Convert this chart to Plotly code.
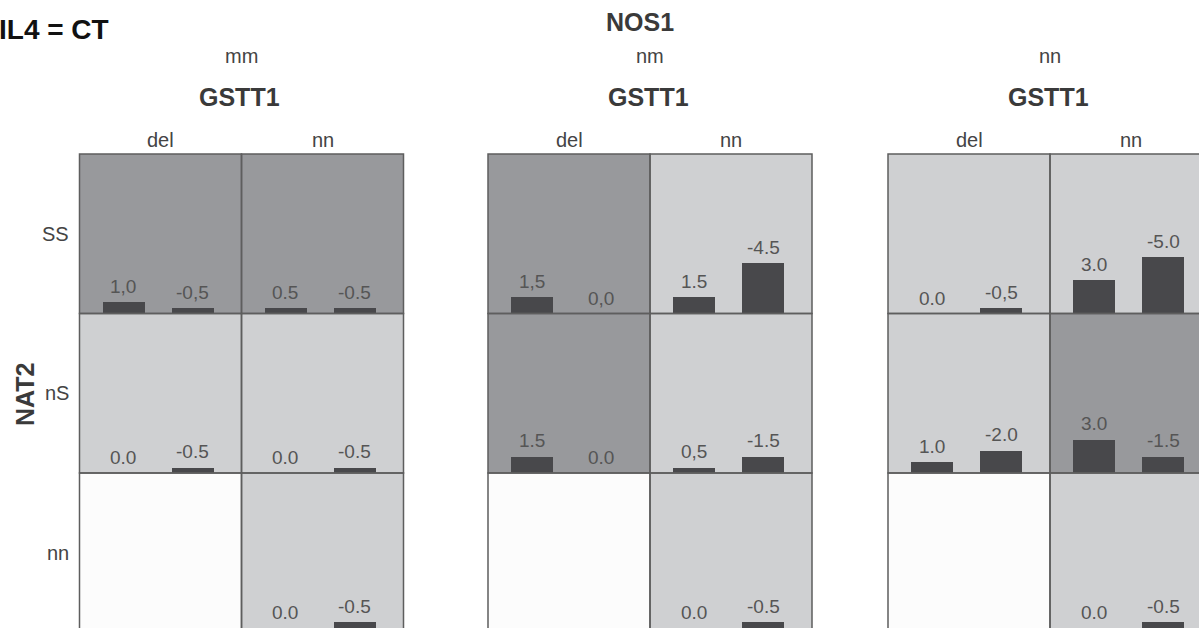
import plotly.graph_objects as go

W, H = 1199, 628
FONT = "Liberation Sans, Arial, Helvetica, sans-serif"

# ---------------- data ----------------
header = "IL4 = CT"
nos1_title = "NOS1"
gstt1_title = "GSTT1"
nat2_title = "NAT2"
nos1_genotypes = ["mm", "nm", "nn"]
gstt1_genotypes = ["del", "nn"]
nat2_genotypes = ["SS", "nS", "nn"]

# values[row NAT2][col GSTT1] = [first bar, second bar]  (None = empty cell)
values_mm = [[[1.0, -0.5], [0.5, -0.5]],
             [[0.0, -0.5], [0.0, -0.5]],
             [None, [0.0, -0.5]]]
labels_mm = [[["1,0", "-0,5"], ["0.5", "-0.5"]],
             [["0.0", "-0.5"], ["0.0", "-0.5"]],
             [None, ["0.0", "-0.5"]]]
shade_mm = [["dark", "dark"], ["light", "light"], ["white", "light"]]

values_nm = [[[1.5, 0.0], [1.5, -4.5]],
             [[1.5, 0.0], [0.5, -1.5]],
             [None, [0.0, -0.5]]]
labels_nm = [[["1,5", "0,0"], ["1.5", "-4.5"]],
             [["1.5", "0.0"], ["0,5", "-1.5"]],
             [None, ["0.0", "-0.5"]]]
shade_nm = [["dark", "light"], ["dark", "light"], ["white", "light"]]

values_nn = [[[0.0, -0.5], [3.0, -5.0]],
             [[1.0, -2.0], [3.0, -1.5]],
             [None, [0.0, -0.5]]]
labels_nn = [[["0.0", "-0,5"], ["3.0", "-5.0"]],
             [["1.0", "-2.0"], ["3.0", "-1.5"]],
             [None, ["0.0", "-0.5"]]]
shade_nn = [["light", "light"], ["light", "dark"], ["white", "light"]]

panels_values = [values_mm, values_nm, values_nn]
panels_labels = [labels_mm, labels_nm, labels_nn]
panels_shades = [shade_mm, shade_nm, shade_nn]

# ---------------- style / geometry ----------------
SHADE_COLORS = {"dark": "#98999c", "light": "#cfd0d2", "white": "#fcfcfc"}
BAR_COLOR = "#48484b"
BORDER_COLOR = "#5e5e5e"
LABEL_COLOR = "#555555"
TEXT_DARK = "#3a3a3a"

panel_left = [79.5, 488.0, 888.0]
cell_w = 162.0
row_top = 154.0
cell_h = 159.5
px_per_unit = 11.3
x_full = [-0.63, 1.70]


def px_x(p):
    return p / W


def px_y(p):
    return 1 - p / H


fig = go.Figure()
layout_axes = {}
shapes = []
annotations = []

n = 0
for pi in range(3):
    for r in range(3):
        for c in range(2):
            L = panel_left[pi] + c * cell_w
            R = L + cell_w
            T = row_top + r * cell_h
            B = T + cell_h
            shade = panels_shades[pi][r][c]
            shapes.append(dict(type="rect", xref="paper", yref="paper",
                               x0=px_x(L), x1=px_x(R), y0=px_y(B), y1=px_y(T),
                               fillcolor=SHADE_COLORS[shade], line=dict(width=0),
                               layer="below"))
            shapes.append(dict(type="rect", xref="paper", yref="paper",
                               x0=px_x(L), x1=px_x(R), y0=px_y(B), y1=px_y(T),
                               fillcolor="rgba(0,0,0,0)",
                               line=dict(color=BORDER_COLOR, width=1.5),
                               layer="above"))
            vals = panels_values[pi][r][c]
            if vals is None:
                continue
            labs = panels_labels[pi][r][c]
            n += 1
            sfx = "" if n == 1 else str(n)
            # visible part of the cell (the picture crops the right / bottom cells)
            Rv = min(R, W)
            Bv = min(B, H)
            xr = [x_full[0],
                  x_full[0] + (x_full[1] - x_full[0]) * (Rv - L) / (R - L)]
            yr = [0.0, (Bv - T) / px_per_unit]
            layout_axes["xaxis" + sfx] = dict(domain=[px_x(L), px_x(Rv)],
                                              range=xr, visible=False,
                                              fixedrange=True,
                                              anchor="y" + sfx)
            layout_axes["yaxis" + sfx] = dict(domain=[max(px_y(Bv), 0.0), px_y(T)],
                                              range=yr, visible=False,
                                              fixedrange=True,
                                              anchor="x" + sfx)
            fig.add_trace(go.Bar(x=[0, 1], y=[abs(v) for v in vals],
                                 width=0.6,
                                 marker=dict(color=BAR_COLOR, line=dict(width=0)),
                                 xaxis="x" + sfx, yaxis="y" + sfx,
                                 showlegend=False, hoverinfo="skip"))
            for i, (v, lab) in enumerate(zip(vals, labs)):
                annotations.append(dict(x=i, y=abs(v), xref="x" + sfx, yref="y" + sfx,
                                        text=lab, showarrow=False, yanchor="bottom",
                                        yshift=3,
                                        font=dict(family=FONT, size=19, color=LABEL_COLOR)))

# headers
annotations.append(dict(x=px_x(111), y=px_y(29), xref="paper", yref="paper",
                        text="<b>" + header + "</b>", showarrow=False,
                        xanchor="right", yanchor="middle",
                        font=dict(family=FONT, size=28, color="#111111")))
annotations.append(dict(x=px_x(640), y=px_y(22), xref="paper", yref="paper",
                        text="<b>" + nos1_title + "</b>", showarrow=False,
                        xanchor="center", yanchor="middle",
                        font=dict(family=FONT, size=25, color=TEXT_DARK)))
for pi in range(3):
    mid = panel_left[pi] + cell_w
    annotations.append(dict(x=px_x(mid), y=px_y(56), xref="paper", yref="paper",
                            text=nos1_genotypes[pi], showarrow=False,
                            xanchor="center", yanchor="middle",
                            font=dict(family=FONT, size=20, color="#444444")))
    annotations.append(dict(x=px_x(mid - 2), y=px_y(97), xref="paper", yref="paper",
                            text="<b>" + gstt1_title + "</b>", showarrow=False,
                            xanchor="center", yanchor="middle",
                            font=dict(family=FONT, size=25, color=TEXT_DARK)))
    for c in range(2):
        cx = panel_left[pi] + c * cell_w + cell_w / 2
        annotations.append(dict(x=px_x(cx), y=px_y(140), xref="paper", yref="paper",
                                text=gstt1_genotypes[c], showarrow=False,
                                xanchor="center", yanchor="middle",
                                font=dict(family=FONT, size=20, color="#444444")))
for r in range(3):
    cy = row_top + r * cell_h + cell_h / 2
    annotations.append(dict(x=px_x(71), y=px_y(cy), xref="paper", yref="paper",
                            text=nat2_genotypes[r], showarrow=False,
                            xanchor="right", yanchor="middle",
                            font=dict(family=FONT, size=20, color="#444444")))
annotations.append(dict(x=px_x(25), y=px_y(394), xref="paper", yref="paper",
                        text="<b>" + nat2_title + "</b>", showarrow=False,
                        textangle=-90, xanchor="center", yanchor="middle",
                        font=dict(family=FONT, size=25, color=TEXT_DARK)))

fig.update_layout(width=W, height=H, margin=dict(l=0, r=0, t=0, b=0),
                  paper_bgcolor="white", plot_bgcolor="rgba(0,0,0,0)",
                  showlegend=False, shapes=shapes, annotations=annotations,
                  bargap=0, **layout_axes)

fig.write_html("out.html",
               config={"displayModeBar": False},
               post_script="document.body.style.margin='0';"
                           "document.body.style.overflow='hidden';")
